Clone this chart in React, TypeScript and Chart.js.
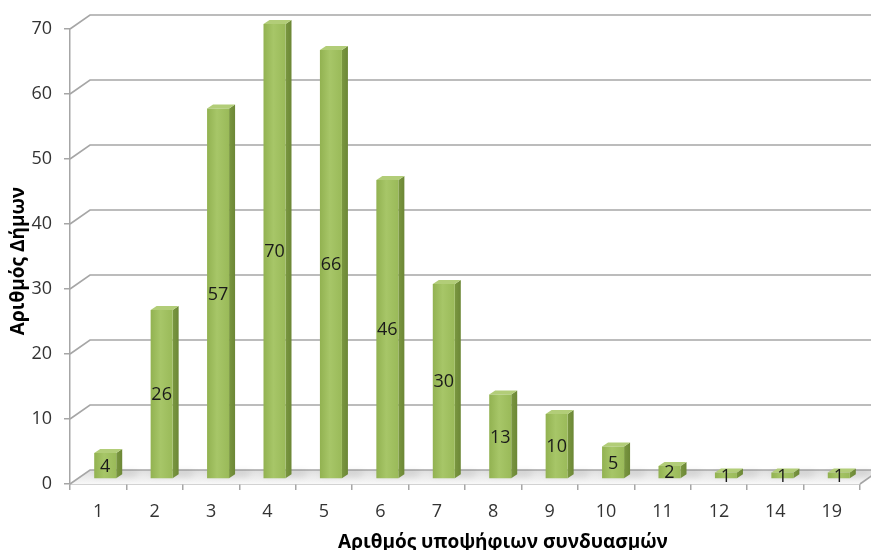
import React, { useEffect, useRef } from 'react';
import { Chart, registerables } from 'chart.js';

Chart.register(...registerables);

// ---- data ----
const categories = ['1', '2', '3', '4', '5', '6', '7', '8', '9', '10', '11', '12', '14', '19'];
const municipalities = [4, 26, 57, 70, 66, 46, 30, 13, 10, 5, 2, 1, 1, 1];
const yTicks = [0, 10, 20, 30, 40, 50, 60, 70];
const xTitle = 'Αριθμός υποψήφιων συνδυασμών';
const yTitle = 'Αριθμός Δήμων';

// ---- 3D styling ----
const WALL_DX = 20;
const WALL_DY = -14;
const BAR_SHIFT_X = 7;
const BAR_SHIFT_Y = -5;
const BAR_DEPTH_X = 6;
const BAR_DEPTH_Y = -4;
const GRID_COLOR = '#a6a6a6';
const FONT = '"Open Sans", "DejaVu Sans", sans-serif';

const threeD = {
  id: 'threeD',
  beforeDatasetsDraw(chart: any) {
    const { ctx, chartArea: a, scales } = chart;
    const y = scales.y;
    const W = chart.width;
    ctx.save();
    // floor
    const g = ctx.createLinearGradient(0, a.bottom + WALL_DY, 0, a.bottom);
    g.addColorStop(0, '#dedede');
    g.addColorStop(1, '#f8f8f8');
    ctx.beginPath();
    ctx.moveTo(a.left, a.bottom);
    ctx.lineTo(a.right, a.bottom);
    ctx.lineTo(a.right + WALL_DX, a.bottom + WALL_DY);
    ctx.lineTo(a.left + WALL_DX, a.bottom + WALL_DY);
    ctx.closePath();
    ctx.fillStyle = g;
    ctx.fill();
    // back wall gridlines + side diagonals
    ctx.strokeStyle = GRID_COLOR;
    ctx.lineWidth = 1.6;
    for (const v of yTicks) {
      const py = y.getPixelForValue(v);
      ctx.beginPath();
      ctx.moveTo(a.left, py);
      ctx.lineTo(a.left + WALL_DX, py + WALL_DY);
      ctx.lineTo(W, py + WALL_DY);
      ctx.stroke();
    }
    ctx.beginPath();
    ctx.moveTo(a.right, a.bottom);
    ctx.lineTo(a.right + WALL_DX, a.bottom + WALL_DY);
    ctx.stroke();

    // soft floor shadows behind bars
    const meta = chart.getDatasetMeta(0);
    ctx.filter = 'blur(3px)';
    ctx.fillStyle = 'rgba(0,0,0,0.10)';
    meta.data.forEach((el: any) => {
      const p = el.getProps(['x', 'base', 'width'], true);
      const cx = p.x + BAR_SHIFT_X;
      const b = p.base + BAR_SHIFT_Y;
      ctx.beginPath();
      ctx.moveTo(cx - p.width / 2, b - 2);
      ctx.lineTo(cx + p.width / 2 + 18, b - 2);
      ctx.lineTo(cx + p.width / 2 + 22, b - 7);
      ctx.lineTo(cx - p.width / 2 + 4, b - 7);
      ctx.closePath();
      ctx.fill();
    });
    ctx.filter = 'none';
    ctx.restore();
  },
  afterDatasetsDraw(chart: any) {
    const { ctx } = chart;
    const meta = chart.getDatasetMeta(0);
    const values = chart.data.datasets[0].data as number[];
    ctx.save();
    meta.data.forEach((el: any, i: number) => {
      const p = el.getProps(['x', 'y', 'base', 'width'], true);
      const cx = p.x + BAR_SHIFT_X;
      const w = p.width;
      const l = cx - w / 2;
      const r = cx + w / 2;
      const top = p.y + BAR_SHIFT_Y;
      const base = p.base + BAR_SHIFT_Y;
      // side face
      const sg = ctx.createLinearGradient(r, 0, r + BAR_DEPTH_X, 0);
      sg.addColorStop(0, '#7a9740');
      sg.addColorStop(1, '#6c8736');
      ctx.fillStyle = sg;
      ctx.beginPath();
      ctx.moveTo(r, top);
      ctx.lineTo(r + BAR_DEPTH_X, top + BAR_DEPTH_Y);
      ctx.lineTo(r + BAR_DEPTH_X, base + BAR_DEPTH_Y);
      ctx.lineTo(r, base);
      ctx.closePath();
      ctx.fill();
      // top face
      ctx.fillStyle = '#b2cd78';
      ctx.beginPath();
      ctx.moveTo(l, top);
      ctx.lineTo(l + BAR_DEPTH_X, top + BAR_DEPTH_Y);
      ctx.lineTo(r + BAR_DEPTH_X, top + BAR_DEPTH_Y);
      ctx.lineTo(r, top);
      ctx.closePath();
      ctx.fill();
      // front face
      const fg = ctx.createLinearGradient(l, 0, r, 0);
      fg.addColorStop(0, '#92b251');
      fg.addColorStop(0.45, '#a7c668');
      fg.addColorStop(1, '#9aba59');
      ctx.fillStyle = fg;
      ctx.fillRect(l, top, w, base - top);
      // value label
      ctx.fillStyle = '#1a1a1a';
      ctx.font = `18px ${FONT}`;
      ctx.textAlign = 'center';
      ctx.textBaseline = 'middle';
      ctx.fillText(String(values[i]), cx, (top + base) / 2 + 1);
    });
    ctx.restore();
  },
  afterDraw(chart: any) {
    const { ctx } = chart;
    ctx.save();
    ctx.fillStyle = '#000';
    ctx.font = `bold 19px ${FONT}`;
    ctx.textAlign = 'center';
    ctx.textBaseline = 'alphabetic';
    ctx.fillText(xTitle, 503, 548);
    ctx.translate(24, 261);
    ctx.rotate(-Math.PI / 2);
    ctx.fillText(yTitle, 0, 0);
    ctx.restore();
  },
};

export default function App() {
  const ref = useRef<HTMLCanvasElement>(null);
  useEffect(() => {
    document.body.style.margin = '0';
    const canvas = ref.current!;
    const chart = new Chart(canvas, {
      type: 'bar',
      data: {
        labels: categories,
        datasets: [
          {
            data: municipalities,
            backgroundColor: 'rgba(0,0,0,0)',
            borderWidth: 0,
            categoryPercentage: 1,
            barPercentage: 0.39,
          },
        ],
      },
      options: {
        responsive: false,
        animation: false,
        layout: { padding: { top: 29, right: 11, left: 0, bottom: 0 } },
        plugins: { legend: { display: false }, tooltip: { enabled: false } },
        scales: {
          x: {
            z: 1,
            grid: { display: true, drawOnChartArea: false, drawTicks: true, tickLength: 6, color: GRID_COLOR, lineWidth: 1.5, offset: true },
            border: { display: true, color: GRID_COLOR, width: 1.5 },
            ticks: { color: '#333', font: { family: FONT, size: 18 }, padding: 11, maxRotation: 0, autoSkip: false },
            afterFit: (s: any) => { s.height = 66; },
          },
          y: {
            z: 1,
            min: 0,
            max: 70,
            grid: { display: true, drawOnChartArea: false, drawTicks: true, tickLength: 6, color: GRID_COLOR, lineWidth: 1.5 },
            border: { display: true, color: GRID_COLOR, width: 1.5 },
            ticks: { stepSize: 10, color: '#333', font: { family: FONT, size: 18 }, padding: 12 },
            afterFit: (s: any) => { s.width = 70; },
          },
        },
      },
      plugins: [threeD],
    });
    return () => chart.destroy();
  }, []);
  return (
    <div style={{ width: 871, height: 550 }}>
      <canvas ref={ref} width={871} height={550} style={{ display: 'block' }} />
    </div>
  );
}
